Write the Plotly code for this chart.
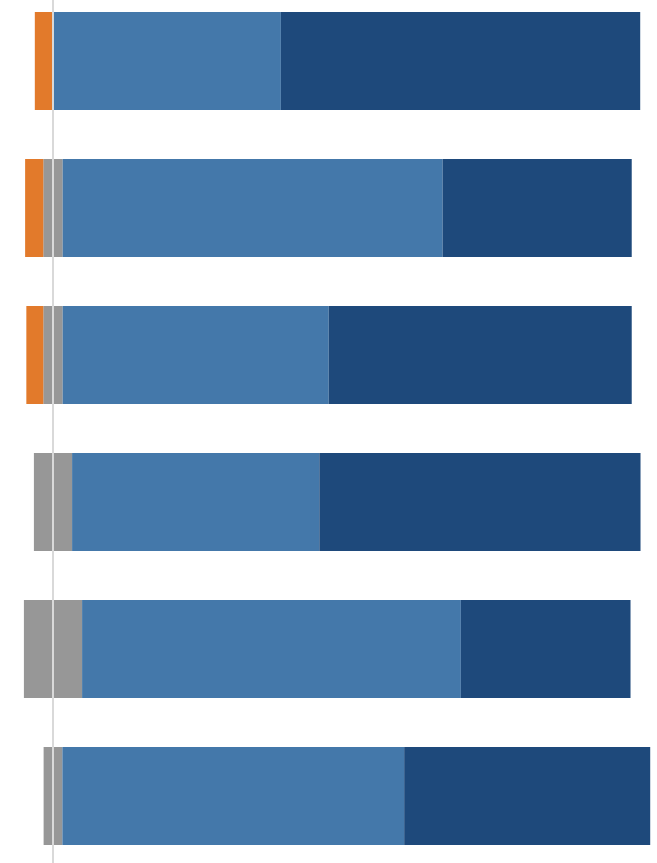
import plotly.graph_objects as go

# Six survey items, shown top to bottom
items = ["Item 1", "Item 2", "Item 3", "Item 4", "Item 5", "Item 6"]

# Share of responses (%) per answer group
negative = [3.0, 3.0, 2.8, 0.0, 0.0, 0.0]
neutral = [0.0, 3.2, 3.2, 6.3, 9.6, 3.1]
agree = [37.6, 62.7, 43.9, 40.8, 62.5, 56.4]
strongly_agree = [59.3, 31.2, 50.0, 53.0, 28.0, 40.6]

col_neg = "#E27A2B"
col_neu = "#979797"
col_agree = "#4478AA"
col_strong = "#1E497B"

half_neutral = [v / 2 for v in neutral]

fig = go.Figure()
bar_kw = dict(orientation="h", marker_line_width=0, hoverinfo="x+y")

# Left side: half of the neutral share next to zero, then the negative share
fig.add_trace(go.Bar(y=items, x=[-v for v in half_neutral], marker_color=col_neu, name="Neutral", **bar_kw))
fig.add_trace(go.Bar(y=items, x=[-v for v in negative], marker_color=col_neg, name="Disagree", **bar_kw))
# Right side: other half of neutral, then agree and strongly agree
fig.add_trace(go.Bar(y=items, x=half_neutral, marker_color=col_neu, name="Neutral ", showlegend=False, **bar_kw))
fig.add_trace(go.Bar(y=items, x=agree, marker_color=col_agree, name="Agree", **bar_kw))
fig.add_trace(go.Bar(y=items, x=strongly_agree, marker_color=col_strong, name="Strongly agree", **bar_kw))

# Zero reference line drawn over the bars
fig.add_shape(type="line", x0=0, x1=0, y0=0, y1=1, xref="x", yref="paper",
              line=dict(color="#D9D9D9", width=2), layer="above")

px_per_pct = 6.06
zero_px = 53
width, height = 657, 863

fig.update_layout(
    width=width, height=height,
    margin=dict(l=0, r=0, t=0, b=0),
    barmode="relative",
    bargap=0.333,
    showlegend=False,
    plot_bgcolor="white", paper_bgcolor="white",
    xaxis=dict(range=[-zero_px / px_per_pct, (width - zero_px) / px_per_pct],
               visible=False, showgrid=False, zeroline=False),
    yaxis=dict(categoryorder="array", categoryarray=items,
               range=[(height - 61) / 147, -61 / 147],
               visible=False, showgrid=False, zeroline=False),
)

fig.write_html("out.html")
